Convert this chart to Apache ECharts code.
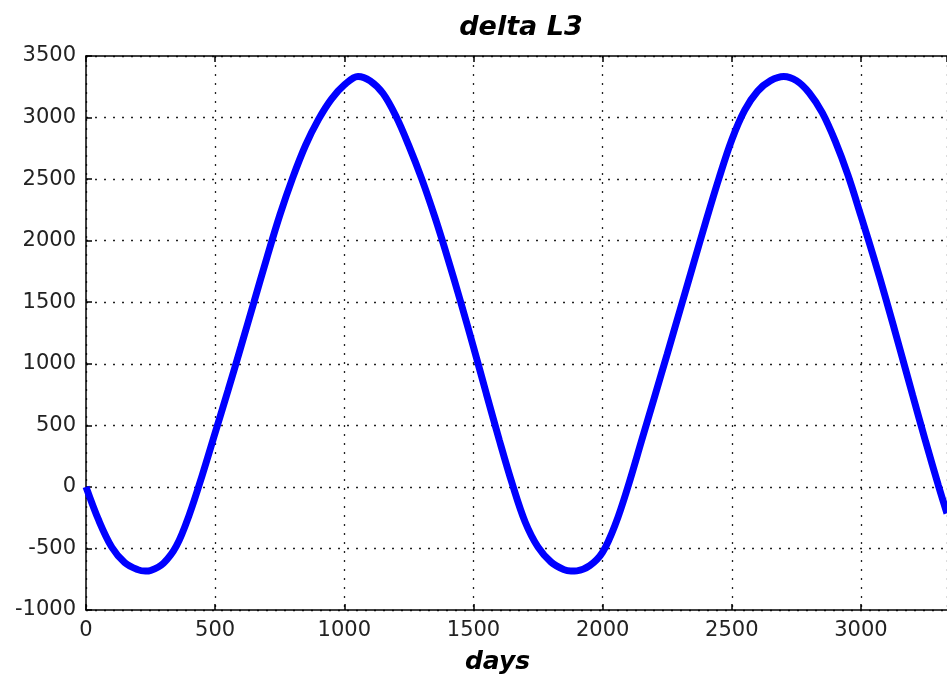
<!DOCTYPE html>
<html>
<head>
<meta charset="utf-8">
<script src="https://cdn.jsdelivr.net/npm/echarts@6/dist/echarts.min.js"></script>
<style>html,body{margin:0;padding:0;background:#fff}#c{width:947px;height:680px}</style>
</head>
<body>
<div id="c"></div>
<script>
// Data
var days = [0, 50, 100, 150, 200, 230, 250, 300, 350, 400, 450, 500, 550, 600, 650, 700, 750, 800, 850, 900, 950, 1000, 1053, 1100, 1150, 1200, 1250, 1300, 1350, 1400, 1450, 1500, 1550, 1600, 1650, 1700, 1750, 1800, 1850, 1877, 1900, 1950, 2000, 2050, 2100, 2150, 2200, 2250, 2300, 2350, 2400, 2450, 2500, 2550, 2600, 2650, 2701, 2750, 2800, 2850, 2900, 2950, 3000, 3050, 3100, 3150, 3200, 3250, 3300, 3333];
var deltaL3 = [0, -275, -490, -615, -672, -684, -679, -620, -480, -225, 95, 440, 785, 1140, 1500, 1860, 2205, 2510, 2775, 2985, 3150, 3265, 3334, 3298, 3195, 3010, 2770, 2500, 2195, 1860, 1505, 1135, 755, 380, 25, -285, -490, -610, -672, -684, -682, -640, -530, -300, 15, 370, 725, 1080, 1440, 1800, 2160, 2505, 2820, 3060, 3215, 3300, 3334, 3300, 3200, 3040, 2810, 2530, 2200, 1860, 1500, 1125, 745, 370, 10, -215];
var xTicks = [0, 500, 1000, 1500, 2000, 2500, 3000];
var yTicks = [-1000, -500, 0, 500, 1000, 1500, 2000, 2500, 3000, 3500];
var titleText = 'delta L3';
var xName = 'days';

var pts = days.map(function (d, i) { return [d, deltaL3[i]]; });
var font = 'DejaVu Sans';
var gridStyle = { color: '#222', width: 1.3, type: [2, 7] };
var tickStyle = { color: '#000', width: 1.5 };
var chart = echarts.init(document.getElementById('c'), null, { renderer: 'canvas' });
chart.setOption({
  backgroundColor: '#fff',
  animation: false,
  title: {
    text: titleText,
    left: 516, top: 9, textAlign: 'center',
    textStyle: { fontFamily: font, fontSize: 27, fontWeight: 'bold', fontStyle: 'italic', color: '#000' }
  },
  grid: { left: 86, top: 56, width: 863, height: 560, containLabel: false },
  xAxis: [{
    type: 'value', min: xTicks[0], max: 3333, interval: 500,
    name: xName, nameLocation: 'middle', nameGap: 40,
    nameTextStyle: { fontFamily: font, fontSize: 25, fontWeight: 'bold', fontStyle: 'italic', color: '#000', padding: [0, 38, 0, 0] },
    axisLine: { show: true, onZero: false, lineStyle: tickStyle },
    axisTick: { show: true, inside: true, length: 6, lineStyle: tickStyle },
    axisLabel: { fontFamily: font, fontSize: 21, color: '#222', margin: 10, showMaxLabel: false,
      formatter: function (v) { return xTicks.indexOf(v) >= 0 ? String(v) : ''; } },
    splitLine: { show: true, lineStyle: gridStyle }
  }, {
    type: 'value', position: 'top', min: xTicks[0], max: 3333, interval: 500,
    axisLine: { show: true, onZero: false, lineStyle: tickStyle },
    axisTick: { show: true, inside: true, length: 6, lineStyle: tickStyle },
    axisLabel: { show: false }, splitLine: { show: false }
  }],
  yAxis: {
    type: 'value', min: yTicks[0], max: yTicks[yTicks.length - 1], interval: 500,
    axisLine: { show: true, onZero: false, lineStyle: tickStyle },
    axisTick: { show: true, inside: true, length: 6, lineStyle: tickStyle },
    axisLabel: { fontFamily: font, fontSize: 21, color: '#222', margin: 10,
      formatter: function (v) { return String(v); } },
    splitLine: { show: true, lineStyle: gridStyle }
  },
  series: [{
    type: 'line', data: pts, smooth: 0.35, showSymbol: false, xAxisIndex: 0,
    lineStyle: { color: '#0000ff', width: 7 }, clip: true
  }]
});
</script>
</body>
</html>
